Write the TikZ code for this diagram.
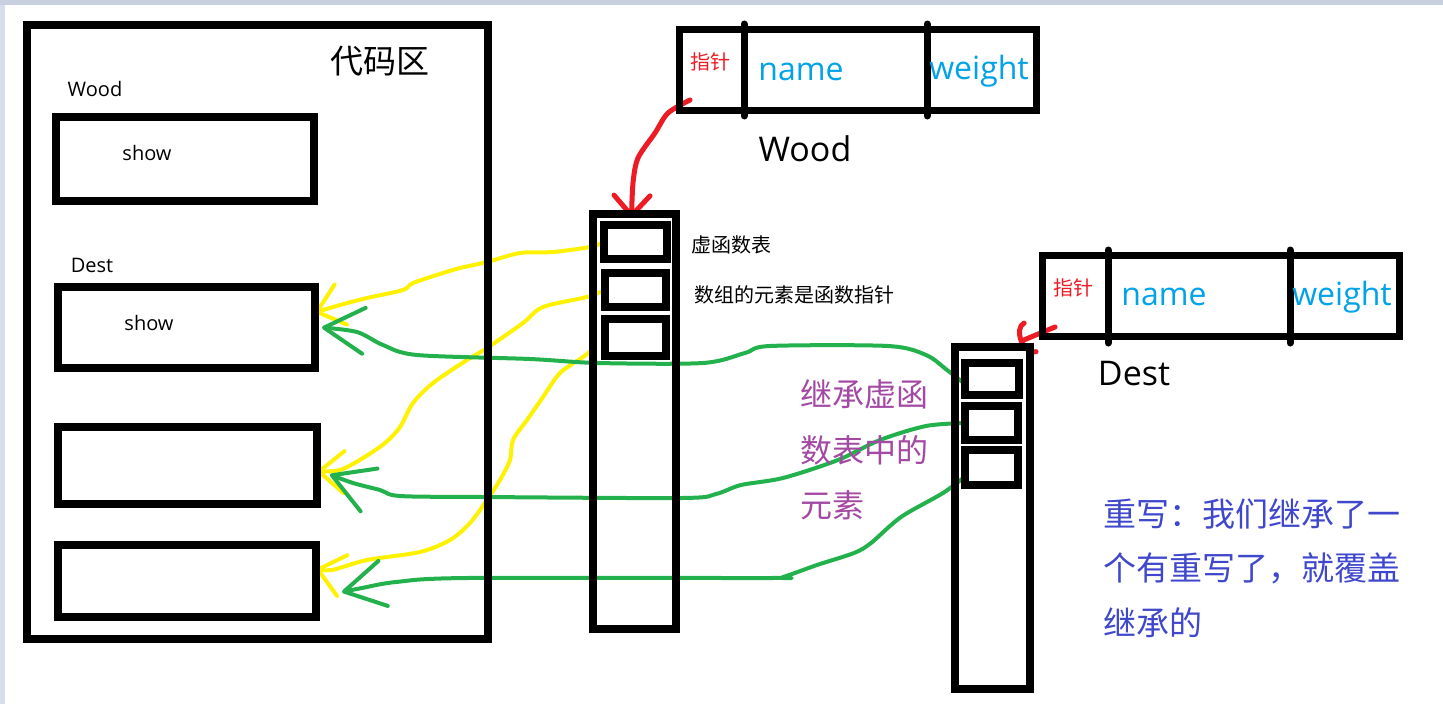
\documentclass[tikz,border=0pt]{standalone}
\usepackage{fontspec}
\setmainfont{Open Sans}
\newfontfamily\cjk{Noto Sans CJK SC}
\usetikzlibrary{arrows.meta}
\pgfdeclarelayer{back}
\pgfsetlayers{back,main}
\definecolor{pinred}{RGB}{237,28,36}
\definecolor{pinblue}{RGB}{0,162,232}
\definecolor{pinyellow}{RGB}{255,242,0}
\definecolor{pingreen}{RGB}{34,177,76}
\definecolor{pinpurple}{RGB}{163,73,164}
\definecolor{pinindigo}{RGB}{63,72,204}
\definecolor{topband}{RGB}{200,208,224}
\definecolor{leftband}{RGB}{214,222,238}
\tikzset{
  box/.style={draw, line width=8pt, inner sep=0pt, outer sep=0pt},
  objbox/.style={draw, line width=7pt, inner sep=0pt, outer sep=0pt, minimum width=357pt, minimum height=81pt},
  divider/.style={line width=7pt, line cap=round},
  yline/.style={pinyellow, line width=4pt, line cap=round, line join=round, -{Straight Barb[round,length=25pt,width=42pt]}},
  gline/.style={pingreen, line width=4pt, line cap=round, line join=round, -{Straight Barb[round,length=40pt,width=46pt]}},
  smalltext/.style={font=\fontsize{20}{24}\selectfont, inner sep=0pt},
  bigtext/.style={font=\fontsize{34}{40}\selectfont, inner sep=0pt},
  field/.style={text=pinblue, font=\fontsize{32}{38}\selectfont, inner sep=0pt},
  ptr/.style={text=pinred, font=\cjk\fontsize{20}{24}\selectfont, inner sep=0pt},
  notetext/.style={font=\cjk\fontsize{20}{24}\selectfont, inner sep=0pt, anchor=west}
}

\begin{document}
\begin{tikzpicture}[x=1pt,y=-1pt]
    % Fondo
    \begin{pgfonlayer}{back}
    \fill[white] (0,0) rectangle (1443,704);
    \fill[topband] (0,0) rectangle (1443,5);
    \fill[leftband] (0,5) rectangle (5,704);
    \end{pgfonlayer}
    \useasboundingbox (0,0) rectangle (1443,704);

    % Zona de codigo
    \node[box, minimum width=461pt, minimum height=614pt] (code) at (257.5,332) {};
    \node[font=\cjk\fontsize{33}{40}\selectfont, inner sep=0pt] (codetitle) at (380,61) {代码区};
    \node[smalltext] (wname) at (95,89) {Wood};
    \node[box, minimum width=258pt, minimum height=84pt] (wshow) at (185,159) {};
    \node[smalltext] (wshowtext) at (147,153) {show};
    \node[smalltext] (dname) at (92,265) {Dest};
    \node[box, minimum width=257pt, minimum height=81pt] (dshow) at (186.5,327.5) {};
    \node[smalltext] (dshowtext) at (149,323) {show};
    \node[box, minimum width=259pt, minimum height=77pt] (func3) at (187.5,465.5) {};
    \node[box, minimum width=258pt, minimum height=72pt] (func4) at (187,581) {};

    % Objeto Wood
    \node[objbox] (wobj) at (857.5,69.5) {};
    \draw[divider] (744,24) -- (744,116);
    \draw[divider] (927,24) -- (927,116);
    \node[ptr] (wptr) at (710,62) {指针};
    \node[field] (wfname) at (801,72) {name};
    \node[field] (wfweight) at (979,71) {weight};
    \node[bigtext] (wtitle) at (805,148.5) {Wood};

    % Tabla virtual de Wood
    \node[box, minimum width=83pt, minimum height=415pt] (wvt) at (634.5,421.5) {};
    \node[box, minimum width=63pt, minimum height=34pt] (ws1) at (635.5,242) {};
    \node[box, minimum width=61pt, minimum height=34pt] (ws2) at (635.5,290) {};
    \node[box, minimum width=61pt, minimum height=37pt] (ws3) at (635.5,337.5) {};
    \node[notetext] (vtnote) at (691,245) {虚函数表};
    \node[notetext] (elemnote) at (694,295) {数组的元素是函数指针};

    % Objeto Dest
    \node[objbox] (dobj) at (1220.5,295.5) {};
    \draw[divider] (1108,250) -- (1108,343);
    \draw[divider] (1290,250) -- (1290,343);
    \node[ptr] (dptr) at (1073,288) {指针};
    \node[field] (dfname) at (1164,297) {name};
    \node[field] (dfweight) at (1342,297.5) {weight};
    \node[bigtext] (dtitle) at (1134,374) {Dest};

    % Tabla virtual de Dest
    \node[box, minimum width=75pt, minimum height=342pt] (dvt) at (992.5,518) {};
    \node[box, minimum width=54pt, minimum height=32pt] (ds1) at (992,379) {};
    \node[box, minimum width=53pt, minimum height=34pt] (ds2) at (991.5,423) {};
    \node[box, minimum width=53pt, minimum height=35pt] (ds3) at (991.5,467.5) {};

    % Notas
    \node[text=pinpurple, font=\cjk\fontsize{32}{55.5}\selectfont, align=left, anchor=west, inner sep=0pt] (inherit) at (800,450) {继承虚函\\数表中的\\元素};
    \node[text=pinindigo, font=\cjk\fontsize{33}{54.5}\selectfont, align=left, anchor=west, inner sep=0pt] (override) at (1103,568) {重写：我们继承了一\\个有重写了，就覆盖\\继承的};

    % Flechas
    \begin{pgfonlayer}{back}
    \draw[pinred, line width=5pt, line cap=round, line join=round, -{Straight Barb[round,length=20pt,width=36pt]}]
      plot[smooth] coordinates {([xshift=11pt,yshift=10pt]wobj.south west) (668,113) (655,133) (638,158) (633,183) ([xshift=-3pt,yshift=-4pt]wvt.north)};
    \draw[pinred, line width=5pt, line cap=round, -{Arc Barb[round,length=12pt,width=36pt]}]
      ([xshift=13pt,yshift=9pt]dobj.south west) -- ([xshift=-11pt,yshift=5pt]dvt.north east);
    \draw[yline] plot[smooth] coordinates {(ws1.west) (590,247) (553,252) (520,253) (487,262) (460,268) (443,273) (413,283) (403,290) (367,298) (340,305) ([yshift=15pt]dshow.east)};
    \draw[yline] plot[smooth] coordinates {(ws2.west) (587,297) (543,307) (523,323) (487,348) (467,360) (433,383) (413,403) (400,427) (385,443) (363,458) (340,470) ([yshift=-6pt]func3.east)};
    \draw[yline] plot[smooth] coordinates {([xshift=-10pt,yshift=-10pt]ws3.west) (583,357) (560,373) (543,397) (527,420) (513,440) (510,460) (500,480) (487,500) (470,523) (450,540) (420,552) (367,560) (332,570) ([yshift=12pt]func4.east)};
    \draw[gline] plot[smooth] coordinates {([yshift=-5pt]ds1.west) (947,370) (926,355) (888,346) (770,346) (745,353) (703,363) (598,363) (530,359) (417,355) (383,345) (357,332) ([xshift=7pt]dshow.east)};
    \draw[gline] plot[smooth] coordinates {(ds2.west) (926,426) (880,440) (838,460) (783,478) (741,485) (716,494) (682,498) (483,497) (400,496) (380,490) (353,483) ([xshift=13pt,yshift=-9pt]func3.east)};
    \draw[gline] plot[smooth] coordinates {([yshift=-9pt]ds3.west) (943,493) (901,517) (871,543) (854,553) (817,565) (783,577) (770,578) (467,578) (396,582) (362,588) ([xshift=26pt,yshift=-11pt]func4.east)};
    \end{pgfonlayer}
\end{tikzpicture}
\end{document}
